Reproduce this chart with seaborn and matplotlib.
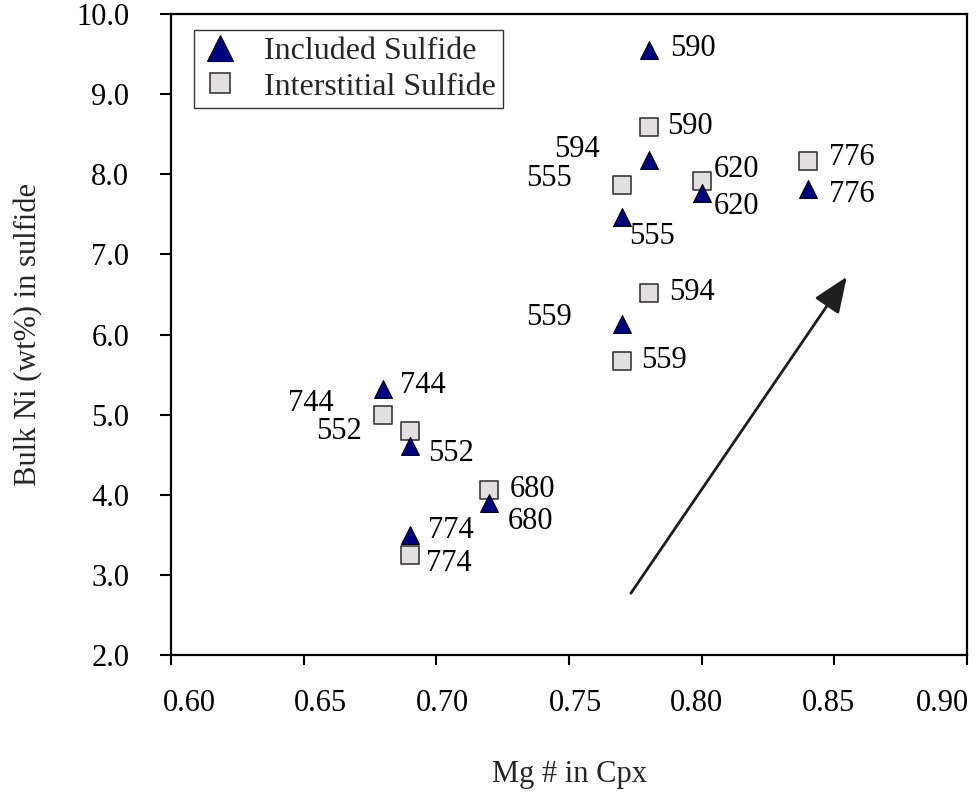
import matplotlib
matplotlib.use("Agg")
import matplotlib.pyplot as plt
from matplotlib.lines import Line2D
from matplotlib.ticker import FormatStrFormatter
from matplotlib.transforms import ScaledTranslation
import seaborn as sns
import pandas as pd

# Sulfide inclusions hosted in clinopyroxene
mg_included = [0.78, 0.78, 0.77, 0.80, 0.84, 0.77, 0.68, 0.69, 0.72, 0.69]
ni_included = [9.55, 8.18, 7.47, 7.77, 7.82, 6.13, 5.32, 4.61, 3.90, 3.50]
ids_included = ["590", "594", "555", "620", "776", "559", "744", "552", "680", "774"]

# Interstitial sulfide
mg_interstitial = [0.78, 0.77, 0.80, 0.84, 0.78, 0.77, 0.68, 0.69, 0.72, 0.69]
ni_interstitial = [8.59, 7.87, 7.92, 8.17, 6.52, 5.67, 5.00, 4.79, 4.06, 3.25]
ids_interstitial = ["590", "555", "620", "776", "594", "559", "744", "552", "680", "774"]

x_ticks = [0.60, 0.65, 0.70, 0.75, 0.80, 0.85, 0.90]
y_ticks = [2.0, 3.0, 4.0, 5.0, 6.0, 7.0, 8.0, 9.0, 10.0]

# label placement (pixel offsets from the marker, horizontal alignment)
off_included = [(22, -2, "left"), (-49, -10, "right"), (7, 20, "left"), (12, 14, "left"),
                (21, 6, "left"), (-50, -7, "right"), (17, -3, "left"), (18, 8, "left"),
                (18, 19, "left"), (18, -4, "left")]
off_interstitial = [(19, 0, "left"), (-50, -6.5, "right"), (12, -11, "left"), (21, -3, "left"),
                    (21, 0, "left"), (19, 0, "left"), (-50, -11, "right"), (-48, 0, "right"),
                    (20, 0, "left"), (16, 9, "left")]

# horizontal nudges of the x tick labels, pixels
xtick_nudge = [18, 17, 6, 6, -5, -6, -25]

# trend arrow (tail, head) in data units
arrow_tail = (0.7733, 2.77)
arrow_head = (0.8547, 6.72)

sns.set_theme(style="white")
plt.rcParams["font.family"] = ["Liberation Serif", "DejaVu Serif"]

TRI_FACE, TRI_EDGE = "#000080", "#000000"
SQ_FACE, SQ_EDGE = "#e1dfdf", "#3a3a3a"
FS = 22

fig = plt.figure(figsize=(9.77, 7.98), dpi=100)
ax = fig.add_axes([171 / 977, 1 - 655 / 798, (967 - 171) / 977, (655 - 14) / 798])

df_inc = pd.DataFrame({"mg": mg_included, "ni": ni_included, "id": ids_included})
df_int = pd.DataFrame({"mg": mg_interstitial, "ni": ni_interstitial, "id": ids_interstitial})

sns.scatterplot(data=df_int, x="mg", y="ni", marker="s", s=175, color=SQ_FACE,
                edgecolor=SQ_EDGE, linewidth=1.2, ax=ax, zorder=3, legend=False)
sns.scatterplot(data=df_inc, x="mg", y="ni", marker="^", s=165, color=TRI_FACE,
                edgecolor=TRI_EDGE, linewidth=0.8, ax=ax, zorder=4, legend=False)

px2pt = 0.72
for df, offs in ((df_inc, off_included), (df_int, off_interstitial)):
    for (mx, my, lab), (dx, dy, ha) in zip(df[["mg", "ni", "id"]].itertuples(index=False), offs):
        ax.annotate(lab, (mx, my), xytext=(dx * px2pt, -dy * px2pt), textcoords="offset points",
                    ha=ha, va="center", fontsize=FS, color="black", zorder=5)

ax.annotate("", xy=arrow_head, xytext=arrow_tail,
            arrowprops=dict(arrowstyle="-|>,head_length=1.1,head_width=0.45",
                            color="#1e1e1e", lw=2.0, mutation_scale=20, shrinkA=0, shrinkB=0))

ax.set_xlim(0.60, 0.90)
ax.set_ylim(2.0, 10.0)
ax.set_xticks(x_ticks)
ax.set_yticks(y_ticks)
ax.xaxis.set_major_formatter(FormatStrFormatter("%.2f"))
ax.yaxis.set_major_formatter(FormatStrFormatter("%.1f"))
ax.tick_params(axis="x", direction="out", length=7.5, width=1.5, color="black",
               labelsize=FS, labelcolor="black", pad=17, bottom=True)
ax.tick_params(axis="y", direction="out", length=8, width=1.5, color="black",
               labelsize=FS, labelcolor="black", pad=22, left=True)
for lab, nudge in zip(ax.get_xticklabels(), xtick_nudge):
    lab.set_transform(lab.get_transform() + ScaledTranslation(nudge / 100, 0, fig.dpi_scale_trans))
for sp in ax.spines.values():
    sp.set_visible(True)
    sp.set_color("black")
    sp.set_linewidth(1.6)

ax.set_xlabel("Mg # in Cpx", fontsize=FS, labelpad=30)
ax.set_ylabel("Bulk Ni (wt%) in sulfide", fontsize=FS, labelpad=24)

handles = [
    Line2D([], [], linestyle="none", marker="^", markersize=19, markerfacecolor=TRI_FACE,
           markeredgecolor=TRI_EDGE, markeredgewidth=0.8),
    Line2D([], [], linestyle="none", marker="s", markersize=15, markerfacecolor=SQ_FACE,
           markeredgecolor=SQ_EDGE, markeredgewidth=1.2),
]
leg = ax.legend(handles, ["Included Sulfide", "Interstitial Sulfide"], loc="upper left",
                bbox_to_anchor=(0.029, 0.975), fontsize=FS + 1, frameon=True, fancybox=False,
                edgecolor="black", borderpad=0.2, handletextpad=0.8, labelspacing=0.2,
                handlelength=1.2, borderaxespad=0)
leg.get_frame().set_linewidth(1.0)

fig.savefig("out.png", dpi=100, facecolor="white")
